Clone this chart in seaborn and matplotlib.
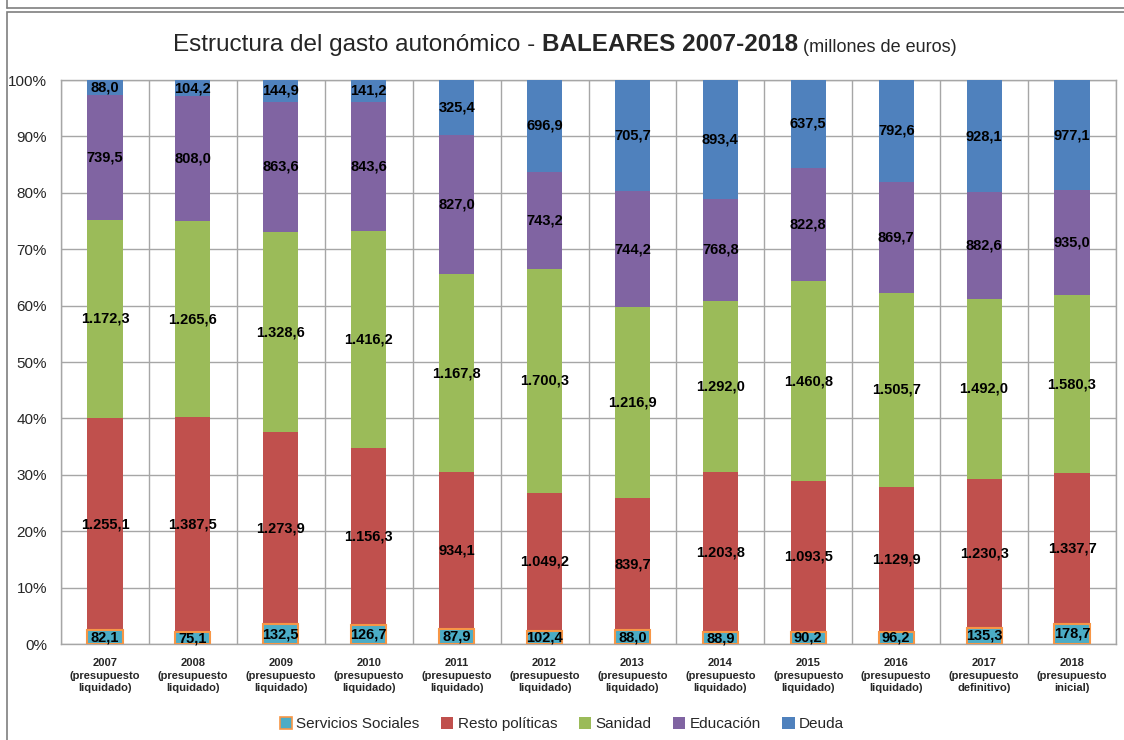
import numpy as np
import pandas as pd
import matplotlib
matplotlib.use("Agg")
import matplotlib.pyplot as plt
from matplotlib.patches import Patch, Rectangle
from matplotlib.lines import Line2D
import seaborn as sns

# Data (millones de euros).
years = ["2007", "2008", "2009", "2010", "2011", "2012",
         "2013", "2014", "2015", "2016", "2017", "2018"]
budget_type = ["liquidado"] * 10 + ["definitivo", "inicial"]
servicios_sociales = [82.1, 75.1, 132.5, 126.7, 87.9, 102.4, 88.0, 88.9, 90.2, 96.2, 135.3, 178.7]
resto_politicas = [1255.1, 1387.5, 1273.9, 1156.3, 934.1, 1049.2, 839.7, 1203.8, 1093.5, 1129.9, 1230.3, 1337.7]
sanidad = [1172.3, 1265.6, 1328.6, 1416.2, 1167.8, 1700.3, 1216.9, 1292.0, 1460.8, 1505.7, 1492.0, 1580.3]
educacion = [739.5, 808.0, 863.6, 843.6, 827.0, 743.2, 744.2, 768.8, 822.8, 869.7, 882.6, 935.0]
deuda = [88.0, 104.2, 144.9, 141.2, 325.4, 696.9, 705.7, 893.4, 637.5, 792.6, 928.1, 977.1]

series_names = ["Servicios Sociales", "Resto políticas", "Sanidad", "Educación", "Deuda"]
series_colors = ["#4BACC6", "#C0504D", "#9BBB59", "#8064A2", "#4F81BD"]

tick_labels = [f"{y}\n(presupuesto\n{t})" for y, t in zip(years, budget_type)]

values = np.array([servicios_sociales, resto_politicas, sanidad, educacion, deuda])
shares = values / values.sum(axis=0) * 100
cum = np.cumsum(shares, axis=0)


def es_fmt(v):
    s = f"{v:,.1f}"
    return s.replace(",", "X").replace(".", ",").replace("X", ".")


sns.set_style("white")
plt.rcParams["font.family"] = ["Liberation Sans Narrow", "Liberation Sans", "DejaVu Sans"]

fig = plt.figure(figsize=(11.24, 7.4), dpi=100)
ax = fig.add_axes([61 / 1124, 1 - 644 / 740, 1055 / 1124, 564 / 740])

# Stacked bars: draw cumulative totals from the top layer down.
for i in range(len(series_names) - 1, -1, -1):
    df = pd.DataFrame({"year": tick_labels, "share": cum[i]})
    is_ss = i == 0
    sns.barplot(data=df, x="year", y="share", order=tick_labels, ax=ax,
                color=series_colors[i], saturation=1, width=0.4, errorbar=None,
                edgecolor="#F79646" if is_ss else series_colors[i],
                linewidth=1.5 if is_ss else 0, zorder=3)

# Data labels centred in each segment.
for i in range(len(series_names)):
    bottoms = cum[i] - shares[i]
    for j in range(len(years)):
        ax.text(j, bottoms[j] + shares[i][j] / 2, es_fmt(values[i][j]),
                ha="center", va="center", fontsize=10.5, fontweight="bold",
                color="black", zorder=5)

ax.set_ylim(0, 100)
ax.set_xlim(-0.5, len(years) - 0.5)
ax.set_yticks(np.arange(0, 101, 10))
ax.set_yticklabels([f"{t}%" for t in range(0, 101, 10)], fontsize=11)
ax.set_xticks(range(len(years)))
ax.set_xticklabels(tick_labels, fontsize=8, fontweight="bold", linespacing=1.35)
ax.set_xticks(np.arange(-0.5, len(years), 1), minor=True)
ax.tick_params(axis="both", which="both", length=0)
ax.tick_params(axis="x", pad=10)
ax.tick_params(axis="y", pad=10)
ax.set_xlabel("")
ax.set_ylabel("")
ax.grid(axis="y", which="major", color="#A6A6A6", linewidth=1, zorder=0)
ax.grid(axis="x", which="minor", color="#A6A6A6", linewidth=1, zorder=0)
ax.set_axisbelow(True)
for side in ["left", "bottom", "right", "top"]:
    ax.spines[side].set_visible(True)
    ax.spines[side].set_color("#A6A6A6")
    ax.spines[side].set_linewidth(1)

# Title made of three pieces with different weights/sizes.
t1 = fig.text(173 / 1124, 1 - 45 / 740, "Estructura del gasto autonómico - ",
              fontsize=17.5, va="center", ha="left")
t2 = ax.annotate("BALEARES 2007-2018", xy=(1, 0), xycoords=t1, va="bottom",
                 ha="left", fontsize=17.5, fontweight="bold")
ax.annotate(" (millones de euros)", xy=(1, 0), xycoords=t2, va="bottom",
            ha="left", fontsize=13)

# Legend at the bottom.
handles = []
for i, name in enumerate(series_names):
    handles.append(Patch(facecolor=series_colors[i],
                         edgecolor="#F79646" if i == 0 else series_colors[i],
                         linewidth=1.2 if i == 0 else 0, label=name))
fig.legend(handles=handles, loc="center", bbox_to_anchor=(0.5, 1 - 724 / 740),
           ncol=5, frameon=False, fontsize=11, handlelength=0.8,
           handleheight=0.8, handletextpad=0.3, columnspacing=1.4)

# Outer frame of the chart area.
fig.add_artist(Rectangle((7 / 1124, -0.01), 1.2, 1 - 12 / 740 + 0.01,
                         transform=fig.transFigure, fill=False,
                         edgecolor="#7F7F7F", linewidth=1.2))
fig.add_artist(Line2D([7 / 1124, 1], [1 - 8 / 740, 1 - 8 / 740],
                      transform=fig.transFigure, color="#7F7F7F", linewidth=1.2))
fig.add_artist(Line2D([7 / 1124, 7 / 1124], [1 - 8 / 740, 1],
                      transform=fig.transFigure, color="#7F7F7F", linewidth=1.2))

fig.savefig("out.png", dpi=100)
